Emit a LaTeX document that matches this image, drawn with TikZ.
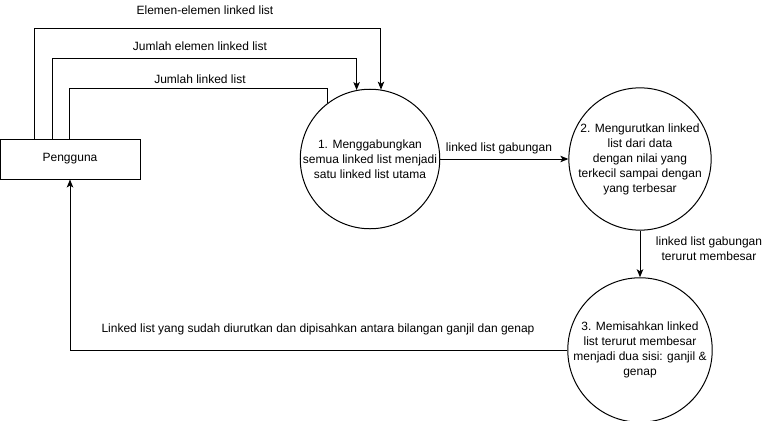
\documentclass[tikz,border=0pt]{standalone}
\usepackage{fontspec}
\setmainfont{Liberation Sans}
\usetikzlibrary{arrows.meta}
\begin{document}
\begin{tikzpicture}[x=1pt,y=-1pt,
  every node/.style={font=\fontsize{12}{15}\selectfont, inner sep=0pt},
  proc/.style={draw, line width=1pt, circle, minimum size=138pt, align=center},
  ent/.style={draw, line width=1pt, rectangle, minimum width=140pt, minimum height=40pt},
  link/.style={line width=1pt},
  arr/.style={line width=1pt, -{Stealth[length=8pt,width=6.5pt,inset=2pt]}},
  lbl/.style={align=center}]
\useasboundingbox (0,0) rectangle (781,420);
\node[ent] (box) at (70,159) {Pengguna};
\node[proc] (c1) at (370,159) {1. Menggabungkan\\semua linked list menjadi\\satu linked list utama};
\node[proc] (c2) at (640,159) {2. Mengurutkan linked\\list dari data\\dengan nilai yang\\terkecil sampai dengan\\yang terbesar};
\node[proc] (c3) at (640,350) {3. Memisahkan linked\\list terurut membesar\\menjadi dua sisi: ganjil \&\\genap};

\draw[arr] ([xshift=35]box.north west) -- ++(0,-110) -| (c1.81.7);
\draw[arr] ([xshift=53]box.north west) -- ++(0,-80) -| (c1.101.7);
\draw[link] ([xshift=70]box.north west) -- ++(0,-50) -| (c1.127.5);
\draw[arr] (c1.east) -- (c2.west);
\draw[arr] (c2.south) -- (c3.north);
\draw[arr] (c3.west) -| (box.south);

\node[lbl] (l1) at (205,10) {Elemen-elemen linked list};
\node[lbl] (l2) at (200,46) {Jumlah elemen linked list};
\node[lbl] (l3) at (200,79) {Jumlah linked list};
\node[lbl] (l4) at (499,148) {linked list gabungan};
\node[lbl] (l5) at (709,249) {linked list gabungan\\terurut membesar};
\node[lbl] (l6) at (318,329) {Linked list yang sudah diurutkan dan dipisahkan antara bilangan ganjil dan genap};
\end{tikzpicture}
\end{document}
